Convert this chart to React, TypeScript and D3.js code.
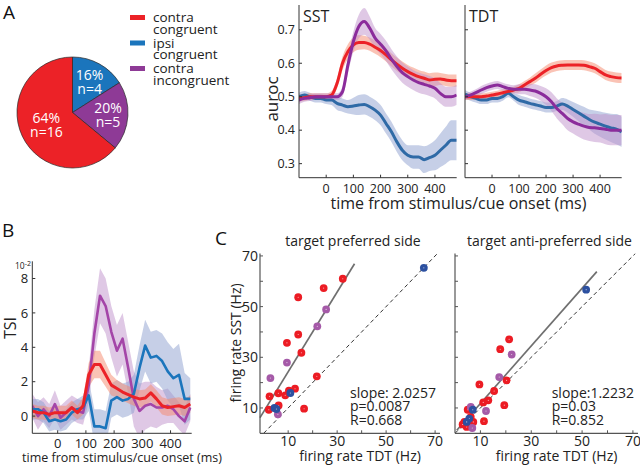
import React from 'react'
import * as d3 from 'd3'

const width = 640
const height = 469
const font = "'Open Sans', 'DejaVu Sans', sans-serif"

const RED = '#ec2227'
const BLUE_A = '#2f6aa6'
const PURPLE_A = '#8b2c9b'
const BLUE_B = '#1b75bc'
const PURPLE_B = '#a445a8'
const RED_BAND = '#f5876c'
const BLUE_BAND = '#8d9fcf'
const PURPLE_BAND = '#bf92cc'
const DOT_RED = '#ec1c24'
const DOT_PURPLE = '#a55aa8'
const DOT_BLUE = '#2c50a0'
const AXIS = '#333'

// ---- panel A : pie + legend
const groupNames = ['contra congruent', 'ipsi congruent', 'contra incongruent']
const groupLines = [['contra', 'congruent'], ['ipsi', 'congruent'], ['contra', 'incongruent']]
const groupColors = [RED, BLUE_B, '#8e3a96']
const pieOrder = ['ipsi congruent', 'contra incongruent', 'contra congruent']
const pieCounts = [4, 5, 16]
const piePercents = ['16%', '20%', '64%']

// ---- panel A : auroc time courses (ms)
const timeA = [-100, -80, -60, -40, -20, 0, 20, 40, 60, 80, 100, 120, 140, 160, 180, 200, 220, 240, 260, 280, 300, 320, 340, 360, 380, 400, 420, 440, 460, 480]
const sstRed = [0.495, 0.497, 0.5, 0.5, 0.5, 0.5, 0.505, 0.54, 0.6, 0.635, 0.655, 0.662, 0.662, 0.657, 0.648, 0.638, 0.625, 0.61, 0.597, 0.585, 0.575, 0.567, 0.56, 0.555, 0.55, 0.552, 0.553, 0.55, 0.548, 0.548]
const sstRedErr = [0.01, 0.01, 0.01, 0.01, 0.01, 0.01, 0.012, 0.015, 0.02, 0.022, 0.022, 0.022, 0.02, 0.02, 0.02, 0.02, 0.02, 0.02, 0.02, 0.02, 0.02, 0.02, 0.02, 0.02, 0.02, 0.02, 0.018, 0.018, 0.018, 0.018]
const sstPurple = [0.49, 0.495, 0.497, 0.5, 0.5, 0.5, 0.5, 0.5, 0.515, 0.595, 0.665, 0.71, 0.725, 0.705, 0.675, 0.657, 0.637, 0.612, 0.59, 0.572, 0.56, 0.55, 0.542, 0.537, 0.532, 0.525, 0.51, 0.5, 0.5, 0.505]
const sstPurpleErr = [0.012, 0.01, 0.01, 0.01, 0.01, 0.01, 0.01, 0.01, 0.015, 0.025, 0.03, 0.035, 0.04, 0.035, 0.03, 0.03, 0.03, 0.03, 0.03, 0.03, 0.03, 0.03, 0.03, 0.03, 0.03, 0.03, 0.03, 0.03, 0.03, 0.03]
const sstBlue = [0.5, 0.505, 0.5, 0.495, 0.495, 0.49, 0.49, 0.48, 0.475, 0.47, 0.472, 0.475, 0.477, 0.47, 0.46, 0.445, 0.42, 0.395, 0.365, 0.34, 0.325, 0.32, 0.32, 0.312, 0.318, 0.325, 0.34, 0.355, 0.37, 0.37]
const sstBlueErr = [0.012, 0.012, 0.012, 0.012, 0.012, 0.012, 0.015, 0.02, 0.02, 0.02, 0.025, 0.03, 0.03, 0.03, 0.03, 0.03, 0.03, 0.03, 0.03, 0.03, 0.03, 0.035, 0.035, 0.04, 0.04, 0.045, 0.05, 0.055, 0.06, 0.06]
const tdtRed = [0.5, 0.5, 0.5, 0.5, 0.502, 0.505, 0.508, 0.512, 0.516, 0.52, 0.525, 0.535, 0.545, 0.555, 0.567, 0.578, 0.587, 0.592, 0.594, 0.595, 0.595, 0.595, 0.594, 0.59, 0.585, 0.575, 0.565, 0.56, 0.557, 0.556]
const tdtRedErr = [0.01, 0.01, 0.01, 0.01, 0.01, 0.01, 0.01, 0.01, 0.01, 0.01, 0.012, 0.012, 0.012, 0.014, 0.014, 0.015, 0.015, 0.015, 0.015, 0.015, 0.015, 0.015, 0.015, 0.015, 0.015, 0.015, 0.015, 0.015, 0.015, 0.015]
const tdtPurple = [0.5, 0.505, 0.512, 0.52, 0.527, 0.532, 0.535, 0.53, 0.525, 0.522, 0.522, 0.522, 0.52, 0.517, 0.51, 0.5, 0.485, 0.465, 0.45, 0.435, 0.425, 0.418, 0.412, 0.408, 0.407, 0.405, 0.403, 0.4, 0.4, 0.4]
const tdtPurpleErr = [0.01, 0.01, 0.01, 0.012, 0.012, 0.012, 0.012, 0.012, 0.012, 0.012, 0.015, 0.015, 0.018, 0.02, 0.022, 0.025, 0.028, 0.03, 0.032, 0.035, 0.035, 0.038, 0.04, 0.04, 0.042, 0.042, 0.045, 0.045, 0.045, 0.045]
const tdtBlue = [0.508, 0.5, 0.495, 0.49, 0.49, 0.495, 0.495, 0.5, 0.51, 0.5, 0.49, 0.485, 0.48, 0.476, 0.472, 0.468, 0.468, 0.472, 0.478, 0.472, 0.462, 0.452, 0.442, 0.432, 0.424, 0.418, 0.412, 0.407, 0.403, 0.395]
const tdtBlueErr = [0.012, 0.012, 0.012, 0.012, 0.012, 0.012, 0.012, 0.012, 0.012, 0.012, 0.015, 0.015, 0.015, 0.015, 0.015, 0.015, 0.015, 0.015, 0.018, 0.02, 0.022, 0.025, 0.028, 0.03, 0.035, 0.038, 0.04, 0.042, 0.045, 0.045]
const aurocTicks = [0.3, 0.4, 0.5, 0.6, 0.7]
const timeTicks = [0, 100, 200, 300, 400]

// ---- panel B : TSI (x 10^-2)
const timeB = [-90, -70, -50, -30, -10, 10, 30, 50, 70, 90, 110, 130, 150, 170, 190, 210, 230, 250, 270, 290, 310, 330, 350, 370, 390, 410, 430, 450, 470]
const tsiRed = [0.3, 0.2, 0.2, 0.1, 0.2, 0.2, 0.2, 0.5, 0.2, 0.6, 2.4, 3.0, 3.0, 2.4, 1.8, 1.6, 1.4, 1.25, 1.1, 1.0, 1.05, 1.35, 1.0, 0.6, 0.5, 0.55, 0.6, 0.5, 0.7]
const tsiRedErr = [0.4, 0.4, 0.4, 0.4, 0.4, 0.4, 0.4, 0.4, 0.4, 0.5, 0.7, 0.8, 0.8, 0.7, 0.6, 0.5, 0.5, 0.5, 0.5, 0.5, 0.5, 0.5, 0.5, 0.5, 0.5, 0.5, 0.5, 0.5, 0.5]
const tsiPurple = [0.6, 0.0, 0.4, 0.0, 0.7, -0.1, 0.2, 0.5, 0.3, 0.2, 1.8, 4.8, 7.0, 6.4, 4.9, 3.8, 4.5, 2.8, 1.0, 0.3, 0.6, 0.7, 0.5, 0.5, 0.6, 0.4, 0.0, -0.3, 0.5]
const tsiPurpleErr = [0.7, 0.8, 0.7, 0.7, 0.8, 0.7, 0.7, 0.7, 0.7, 0.7, 1.0, 1.4, 1.6, 1.6, 1.5, 1.5, 1.5, 1.5, 1.6, 1.6, 1.4, 1.3, 1.2, 1.0, 1.0, 0.8, 0.8, 0.8, 0.8]
const tsiBlue = [0.4, 0.4, 0.2, -0.3, -0.2, -0.3, -0.2, 0.2, 0.4, 0.5, 1.2, -0.6, -0.6, -0.7, 0.9, 1.1, 0.9, 1.0, 1.3, 2.8, 4.1, 3.4, 3.5, 3.2, 2.6, 2.2, 2.4, 1.0, 1.0]
const tsiBlueErr = [0.6, 0.6, 0.6, 0.6, 0.6, 0.6, 0.6, 0.6, 0.6, 0.7, 0.9, 1.0, 1.0, 1.0, 1.0, 1.0, 1.0, 1.0, 1.1, 1.3, 1.5, 1.5, 1.5, 1.6, 1.7, 1.7, 1.8, 1.5, 1.2]
const tsiTicks = [0, 2, 4, 6, 8]

// ---- panel C : firing rates (Hz), [TDT, SST]
const prefRed = [[32.3, 61], [24.5, 57.3], [14.1, 53.7], [14.1, 39], [9.5, 35.7], [15.4, 31.8], [21.7, 22.5], [2.4, 14.6], [6, 15.8], [8.8, 15], [10.3, 16.8], [12.8, 17.6], [6.1, 11], [16.5, 9.7], [2.1, 9.3]]
const prefPurple = [[25.5, 48.9], [21.9, 42.2], [9.5, 27.9], [2.75, 21.8], [5.8, 7.5]]
const prefBlue = [[65.4, 65.3], [10.9, 15.9], [4.4, 10], [5.2, 9.6]]
const prefFit = [[-1.5, 6.2], [37.1, 66.9]]
const prefStats = ['slope: 2.0257', 'p=0.0087', 'R=0.668']
const antiRed = [[21.3, 37.1], [17.8, 33.2], [9.6, 19.3], [20.3, 20.9], [15.4, 16.7], [13.1, 13], [11.1, 12.2], [19.4, 11.1], [5, 9.3], [11.4, 4.8], [3.7, 4.5], [7.2, 4.5], [4.6, 2.5], [6.2, 6.5], [3, 3.5]]
const antiPurple = [[22.3, 31.1], [17.4, 22.2], [12.2, 8.8], [6.2, 10.4], [6.8, 2.1]]
const antiBlue = [[51.6, 56.7], [7, 9.3], [5.6, 5.8], [4.6, 4.5]]
const antiFit = [[0.7, 1.2], [55.8, 63.8]]
const antiStats = ['slope:1.2232', 'p=0.03', 'R=0.852']
const rateTicks = [10, 20, 30, 40, 50, 60, 70]
const rateLabels = [10, 30, 50, 70]

type Scale = d3.ScaleLinear<number, number>

const Band = ({ t, m, e, x, y, color, curve }:
  { t: number[], m: number[], e: number[], x: Scale, y: Scale, color: string, curve: any }) => {
  const area = d3.area<number>()
    .x((d, i) => x(t[i]))
    .y0((d, i) => y(m[i] - e[i]))
    .y1((d, i) => y(m[i] + e[i]))
    .curve(curve)
  return <path d={area(m) || ''} fill={color} fillOpacity={0.5} stroke='none' />
}

const TraceLine = ({ t, m, x, y, color, lw, curve }:
  { t: number[], m: number[], x: Scale, y: Scale, color: string, lw: number, curve: any }) => {
  const gen = d3.line<number>().x((d, i) => x(t[i])).y(d => y(d)).curve(curve)
  return <path d={gen(m) || ''} fill='none' stroke={color} strokeWidth={lw} strokeLinejoin='round' />
}

const Pie = () => {
  const cx = 72.5, cy = 112.5, r = 55.5
  const arcs = d3.pie<number>().sort(null).value(d => d)(pieCounts)
  const arc = d3.arc<d3.PieArcDatum<number>>().innerRadius(0).outerRadius(r)
  return (
    <g transform={`translate(${cx},${cy})`}>
      {arcs.map((a, i) => {
        const col = groupColors[groupNames.indexOf(pieOrder[i])]
        return <path key={i} d={arc(a) || ''} fill={col} stroke='#2a2a2a' strokeWidth={0.7} />
      })}
      {arcs.map((a, i) => {
        const lr = pieCounts[i] > 10 ? r * 0.52 : r * 0.64
        const [lx, ly] = d3.arc<d3.PieArcDatum<number>>().innerRadius(lr).outerRadius(lr).centroid(a)
        return (
          <text key={'l' + i} x={lx} y={ly} fill='#fff' fontSize={14} textAnchor='middle'>
            <tspan x={lx} dy={-1.5}>{piePercents[i]}</tspan>
            <tspan x={lx} dy={14}>{`n=${pieCounts[i]}`}</tspan>
          </text>
        )
      })}
    </g>
  )
}

const Legend = () => (
  <g>
    {groupNames.map((g, i) => {
      const y0 = 17.5 + i * 25.5
      return (
        <g key={g}>
          <rect x={130} y={y0 - 2.5} width={15} height={5} fill={groupColors[i]} />
          <text x={153} y={y0 + 4.5} fontSize={13.5} fill='#222'>{groupLines[i][0]}</text>
          <text x={153} y={y0 + 16} fontSize={13.5} fill='#222'>{groupLines[i][1]}</text>
        </g>
      )
    })}
  </g>
)

const AurocPanel = ({ x, y, red, redErr, purple, purpleErr, blue, blueErr, title, showY, id }:
  { x: Scale, y: Scale, red: number[], redErr: number[], purple: number[], purpleErr: number[], blue: number[], blueErr: number[], title: string, showY: boolean, id: string }) => {
  const [x0, x1] = x.range()
  const [y0, y1] = y.range()
  const curve = d3.curveMonotoneX
  return (
    <g>
      <clipPath id={id}><rect x={x0} y={y1} width={x1 - x0} height={y0 - y1} /></clipPath>
      <g clipPath={`url(#${id})`}>
        <Band t={timeA} m={blue} e={blueErr} x={x} y={y} color={BLUE_BAND} curve={curve} />
        <Band t={timeA} m={red} e={redErr} x={x} y={y} color={RED_BAND} curve={curve} />
        <Band t={timeA} m={purple} e={purpleErr} x={x} y={y} color={PURPLE_BAND} curve={curve} />
        <TraceLine t={timeA} m={blue} x={x} y={y} color={BLUE_A} lw={3} curve={curve} />
        <TraceLine t={timeA} m={red} x={x} y={y} color={RED} lw={3} curve={curve} />
        <TraceLine t={timeA} m={purple} x={x} y={y} color={PURPLE_A} lw={3} curve={curve} />
      </g>
      <line x1={x0} x2={x0} y1={y1} y2={y0} stroke={AXIS} strokeWidth={1} />
      <line x1={x0} x2={x1} y1={y0} y2={y0} stroke={AXIS} strokeWidth={1} />
      {aurocTicks.map(v => (
        <g key={v}>
          <line x1={x0} x2={x0 + 3} y1={y(v)} y2={y(v)} stroke={AXIS} />
          {showY && <text x={x0 - 4} y={y(v) + 4.3} fontSize={12.5} textAnchor='end' fill='#222'>{v}</text>}
        </g>
      ))}
      {timeTicks.map(v => (
        <g key={v}>
          <line x1={x(v)} x2={x(v)} y1={y0} y2={y0 - 3} stroke={AXIS} />
          <text x={x(v)} y={y0 + 15} fontSize={12.5} textAnchor='middle' fill='#222'>{v}</text>
        </g>
      ))}
      <text x={x0 + 4} y={21.7} fontSize={16} fill='#222'>{title}</text>
    </g>
  )
}

const TsiPanel = () => {
  const x = d3.scaleLinear().domain([-90, 475]).range([32.3, 191.7])
  const y = d3.scaleLinear().domain([-1, 9]).range([433.3, 261.3])
  const [x0, x1] = x.range()
  const [y0, y1] = y.range()
  const curve = d3.curveLinear
  return (
    <g>
      <clipPath id='clipB'><rect x={x0} y={y1} width={x1 - x0} height={y0 - y1} /></clipPath>
      <g clipPath='url(#clipB)'>
        <Band t={timeB} m={tsiPurple} e={tsiPurpleErr} x={x} y={y} color={PURPLE_BAND} curve={curve} />
        <Band t={timeB} m={tsiBlue} e={tsiBlueErr} x={x} y={y} color={BLUE_BAND} curve={curve} />
        <Band t={timeB} m={tsiRed} e={tsiRedErr} x={x} y={y} color={RED_BAND} curve={curve} />
        <TraceLine t={timeB} m={tsiPurple} x={x} y={y} color={PURPLE_B} lw={2.6} curve={curve} />
        <TraceLine t={timeB} m={tsiBlue} x={x} y={y} color={BLUE_B} lw={2.6} curve={curve} />
        <TraceLine t={timeB} m={tsiRed} x={x} y={y} color={RED} lw={3} curve={curve} />
      </g>
      <line x1={x0} x2={x0} y1={y1} y2={y0} stroke={AXIS} />
      <line x1={x0} x2={x1} y1={y0} y2={y0} stroke={AXIS} />
      {tsiTicks.map(v => (
        <g key={v}>
          <line x1={x0} x2={x0 + 3} y1={y(v)} y2={y(v)} stroke={AXIS} />
          <text x={x0 - 4} y={y(v) + 4.6} fontSize={13} textAnchor='end' fill='#222'>{v}</text>
        </g>
      ))}
      {timeTicks.map(v => (
        <g key={v}>
          <line x1={x(v)} x2={x(v)} y1={y0} y2={y0 - 3} stroke={AXIS} />
          <text x={x(v)} y={y0 + 15} fontSize={13} textAnchor='middle' fill='#222'>{v}</text>
        </g>
      ))}
      <text x={15} y={269} fontSize={8.5} fill='#222'>10<tspan dy={-3.5} fontSize={7}>-2</tspan></text>
      <text transform='translate(16,328) rotate(-90)' fontSize={16} textAnchor='middle' fill='#222'>TSI</text>
      <text x={122} y={462} fontSize={12.5} textAnchor='middle' fill='#222'>time from stimulus/cue onset (ms)</text>
    </g>
  )
}

const Scatter = ({ x, y, red, purple, blue, fit, stats, title, showY, statX, id }:
  { x: Scale, y: Scale, red: number[][], purple: number[][], blue: number[][], fit: number[][], stats: string[], title: string, showY: boolean, statX: number, id: string }) => {
  const [x0, x1] = x.range()
  const [y0, y1] = y.range()
  const lim = Math.min(x.domain()[1], y.domain()[1])
  const mid = (x0 + x1) / 2
  const dots = (pts: number[][], col: string, key: string) => pts.map((p, i) => (
    <g key={key + i}>
      <circle cx={x(p[0])} cy={y(p[1])} r={3.9} fill={col} />
      <circle cx={x(p[0])} cy={y(p[1])} r={0.55} fill='#fff' fillOpacity={0.7} />
    </g>
  ))
  return (
    <g>
      <clipPath id={id}><rect x={x0} y={y1} width={x1 - x0} height={y0 - y1} /></clipPath>
      <line x1={x(0)} y1={y(0)} x2={x(lim)} y2={y(lim)} stroke='#333' strokeWidth={1} strokeDasharray='4,3' clipPath={`url(#${id})`} />
      <line x1={x(fit[0][0])} y1={y(fit[0][1])} x2={x(fit[1][0])} y2={y(fit[1][1])} stroke='#6f6f6f' strokeWidth={1.7} />
      {dots(red, DOT_RED, 'r')}
      {dots(purple, DOT_PURPLE, 'p')}
      {dots(blue, DOT_BLUE, 'b')}
      <line x1={x0} x2={x0} y1={y1} y2={y0} stroke='#555' strokeWidth={1.2} />
      <line x1={x0} x2={x1} y1={y0} y2={y0} stroke='#555' strokeWidth={1.2} />
      {rateTicks.map(v => (
        <g key={v}>
          <line x1={x0} x2={x0 + 3} y1={y(v)} y2={y(v)} stroke='#555' />
          <line x1={x(v)} x2={x(v)} y1={y0} y2={y0 - 3} stroke='#555' />
        </g>
      ))}
      {rateLabels.map(v => (
        <g key={'l' + v}>
          {showY && <text x={x0 - 2} y={y(v) + 5} fontSize={14} textAnchor='end' fill='#222'>{v}</text>}
          <text x={x(v)} y={y0 + 13} fontSize={14} textAnchor='middle' fill='#222'>{v}</text>
        </g>
      ))}
      <text x={mid + 3} y={246} fontSize={14} textAnchor='middle' fill='#222'>{title}</text>
      <text x={mid + 10} y={461} fontSize={14} textAnchor='middle' fill='#222'>firing rate TDT (Hz)</text>
      {stats.map((s, i) => (
        <text key={s} x={statX} y={397.5 + i * 13.5} fontSize={14} fill='#222'>{s}</text>
      ))}
    </g>
  )
}

const App = () => {
  const aurocY = d3.scaleLinear().domain([0.258, 0.774]).range([177.7, 5])
  const sstX = d3.scaleLinear().domain([-100, 480]).range([299, 456.7])
  const tdtX = d3.scaleLinear().domain([-100, 480]).range([465, 621.7])
  const prefX = d3.scaleLinear().domain([-1.5, 72]).range([260, 440])
  const antiX = d3.scaleLinear().domain([0, 72]).range([455, 638])
  const rateY = d3.scaleLinear().domain([0, 71]).range([433.3, 253.4])

  return (
    <svg width={width} height={height} style={{ display: 'block', position: 'absolute', left: 0, top: 0, background: '#fff' }}
      fontFamily={font}>
      <rect width={width} height={height} fill='#fff' />
      <text x={3} y={18.5} fontSize={19} fill='#111'>A</text>
      <text x={2} y={236.7} fontSize={19} fill='#111'>B</text>
      <text x={215} y={245} fontSize={19} fill='#111'>C</text>

      <Pie />
      <Legend />

      <AurocPanel id='clipSST' x={sstX} y={aurocY} red={sstRed} redErr={sstRedErr} purple={sstPurple} purpleErr={sstPurpleErr}
        blue={sstBlue} blueErr={sstBlueErr} title='SST' showY={true} />
      <AurocPanel id='clipTDT' x={tdtX} y={aurocY} red={tdtRed} redErr={tdtRedErr} purple={tdtPurple} purpleErr={tdtPurpleErr}
        blue={tdtBlue} blueErr={tdtBlueErr} title='TDT' showY={false} />
      <text transform='translate(278,99) rotate(-90)' fontSize={17} textAnchor='middle' fill='#222'>auroc</text>
      <text x={458.5} y={209} fontSize={16} textAnchor='middle' fill='#222'>time from stimulus/cue onset (ms)</text>

      <TsiPanel />

      <Scatter id='clipPref' x={prefX} y={rateY} red={prefRed} purple={prefPurple} blue={prefBlue} fit={prefFit}
        stats={prefStats} title='target preferred side' showY={true} statX={350} />
      <Scatter id='clipAnti' x={antiX} y={rateY} red={antiRed} purple={antiPurple} blue={antiBlue} fit={antiFit}
        stats={antiStats} title='target anti-preferred side' showY={false} statX={551.7} />
      <text transform='translate(241,343) rotate(-90)' fontSize={14} textAnchor='middle' fill='#222'>firing rate SST (Hz)</text>
    </svg>
  )
}

export default App
